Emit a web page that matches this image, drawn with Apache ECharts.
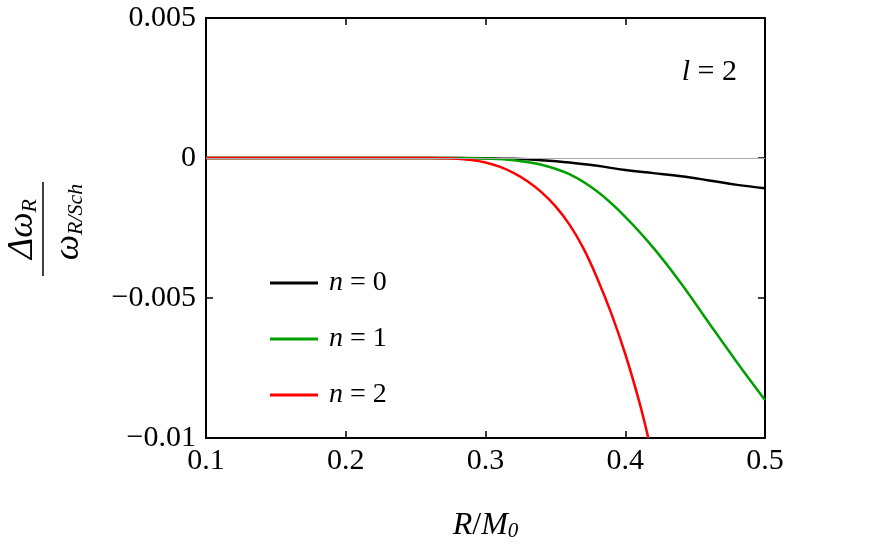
<!DOCTYPE html>
<html>
<head>
<meta charset="utf-8">
<script src="https://cdn.jsdelivr.net/npm/echarts@6/dist/echarts.min.js"></script>
<style>
html, body { margin: 0; padding: 0; background: #fff; }
#chart-container { width: 872px; height: 550px; }
</style>
</head>
<body>
<div id="chart-container"></div>
<script>
// R/M0 sample points for n = 0 and n = 1
var xs = [0.10, 0.12, 0.14, 0.16, 0.18, 0.20, 0.22, 0.24, 0.26, 0.28,
          0.30, 0.32, 0.34, 0.36, 0.38, 0.40, 0.42, 0.44, 0.46, 0.48, 0.50];
var n0 = [0, 0, 0, 0, 0, 0, 0, 0, 0, 0,
          -0.00001, -0.00003, -0.00008, -0.00016, -0.00028, -0.00043, -0.00054, -0.00065, -0.00080, -0.00096, -0.00108];
var n1 = [0, 0, 0, 0, 0, 0, 0, 0, 0, 0,
          -0.00002, -0.00008, -0.00024, -0.00058, -0.00120, -0.00210, -0.00320, -0.00448, -0.00590, -0.00730, -0.00864];
// n = 2 drops out of the frame, so it has its own x points
var redX = [0.10, 0.12, 0.14, 0.16, 0.18, 0.20, 0.22, 0.24, 0.26, 0.27, 0.28, 0.29, 0.30, 0.31, 0.32, 0.33,
            0.34, 0.35, 0.36, 0.37, 0.38, 0.39, 0.40, 0.41, 0.4165];
var n2 = [0, 0, 0, 0, 0, 0, 0, 0, 0, -0.00001, -0.00003, -0.00007, -0.00016, -0.00031, -0.00053, -0.00083,
          -0.00122, -0.00172, -0.00237, -0.00322, -0.00430, -0.00555, -0.00700, -0.00870, -0.01000];

var seriesNames = ['n = 0', 'n = 1', 'n = 2'];
var colors = ['#000000', '#00a000', '#ff0000'];
var serif = '"Liberation Serif", "Times New Roman", serif';

function pairs(x, y) {
  return x.map(function (v, i) { return [v, y[i]]; });
}

// rich styles: main glyphs and lowered subscripts
function richSet(main, sub, drop, colorKey) {
  function st(size, italic, lh) {
    var s = { fontFamily: serif, fontSize: size, fontStyle: italic ? 'italic' : 'normal',
              lineHeight: lh, verticalAlign: 'bottom' };
    s[colorKey] = '#000';
    return s;
  }
  return {
    i: st(main, true, main + 2),
    n: st(main, false, main + 2),
    s: st(sub, true, main + 2 + 2 * drop)
  };
}

var dom = document.getElementById('chart-container');
var myChart = echarts.init(dom, null, { renderer: 'canvas' });

var frameLine = { show: true, onZero: false, lineStyle: { color: '#000', width: 2 } };
var frameTick = { show: true, inside: true, length: 7, lineStyle: { color: '#000', width: 1.5 } };

var option = {
  animation: false,
  backgroundColor: '#fff',
  grid: { left: 206, right: 107, top: 18, bottom: 112, outerBoundsMode: 'none', containLabel: false },
  legend: {
    orient: 'vertical',
    left: 265,
    top: 263,
    icon: 'rect',
    itemWidth: 48,
    itemHeight: 3,
    itemGap: 26,
    data: seriesNames,
    formatter: function (name) {
      return '{i|n} = ' + name.split('= ')[1];
    },
    textStyle: {
      fontFamily: serif, fontSize: 28, color: '#000', lineHeight: 30,
      padding: [0, 0, 0, 6],
      rich: { i: { fontFamily: serif, fontSize: 28, fontStyle: 'italic', color: '#000' } }
    }
  },
  xAxis: [{
    type: 'value',
    min: 0.1, max: 0.5, interval: 0.1,
    position: 'bottom',
    axisLine: frameLine, axisTick: frameTick,
    axisLabel: { margin: 8, color: '#000', fontSize: 30, fontFamily: serif },
    splitLine: { show: false },
    name: '{i|R}{n|/}{i|M}{s|0}',
    nameLocation: 'middle',
    nameGap: 58,
    nameTextStyle: { rich: richSet(32, 21, 6, 'color') }
  }, {
    type: 'value',
    min: 0.1, max: 0.5, interval: 0.1,
    position: 'top',
    axisLine: frameLine, axisTick: frameTick,
    axisLabel: { show: false },
    splitLine: { show: false }
  }],
  yAxis: [{
    type: 'value',
    min: -0.01, max: 0.005, interval: 0.005,
    position: 'left',
    axisLine: frameLine, axisTick: frameTick,
    axisLabel: {
      margin: 10, color: '#000', fontSize: 30, fontFamily: serif,
      formatter: function (v) {
        var r = +v.toFixed(4);
        return r < 0 ? '\u2212' + String(-r) : String(r);
      }
    },
    splitLine: { show: false }
  }, {
    type: 'value',
    min: -0.01, max: 0.005, interval: 0.005,
    position: 'right',
    axisLine: frameLine, axisTick: frameTick,
    axisLabel: { show: false },
    splitLine: { show: false }
  }],
  graphic: [{
    // y axis title as a fraction, turned to read upward
    type: 'group',
    x: 43, y: 229,
    rotation: Math.PI / 2,
    children: [{
      type: 'line',
      shape: { x1: -47, y1: 0, x2: 47, y2: 0 },
      style: { stroke: '#000', lineWidth: 1.5 }
    }, {
      type: 'text',
      x: 0, y: -25,
      style: {
        text: '{i|\u0394\u03c9}{s|R}',
        align: 'center', verticalAlign: 'middle',
        rich: richSet(36, 22, 4, 'fill')
      }
    }, {
      type: 'text',
      x: 7, y: 21,
      style: {
        text: '{i|\u03c9}{s|R/Sch}',
        align: 'center', verticalAlign: 'middle',
        rich: richSet(36, 22, 4, 'fill')
      }
    }]
  }, {
    type: 'text',
    x: 737, y: 72,
    style: {
      text: '{i|l} = 2',
      align: 'right', verticalAlign: 'middle',
      fontFamily: serif, fontSize: 30, fill: '#000',
      rich: { i: { fontFamily: serif, fontSize: 30, fontStyle: 'italic', fill: '#000' } }
    }
  }],
  series: [{
    name: seriesNames[0],
    type: 'line',
    data: pairs(xs, n0),
    smooth: 0.4,
    showSymbol: false,
    color: colors[0],
    lineStyle: { color: colors[0], width: 2.5 },
    markLine: {
      silent: true,
      symbol: 'none',
      label: { show: false },
      lineStyle: { color: '#aaaaaa', width: 1, type: 'solid' },
      data: [{ yAxis: 0 }]
    }
  }, {
    name: seriesNames[1],
    type: 'line',
    data: pairs(xs, n1),
    smooth: 0.4,
    showSymbol: false,
    color: colors[1],
    lineStyle: { color: colors[1], width: 2.5 }
  }, {
    name: seriesNames[2],
    type: 'line',
    data: pairs(redX, n2),
    smooth: 0.4,
    showSymbol: false,
    color: colors[2],
    lineStyle: { color: colors[2], width: 2.5 }
  }]
};

myChart.setOption(option);
window.addEventListener('resize', myChart.resize);
</script>
</body>
</html>
